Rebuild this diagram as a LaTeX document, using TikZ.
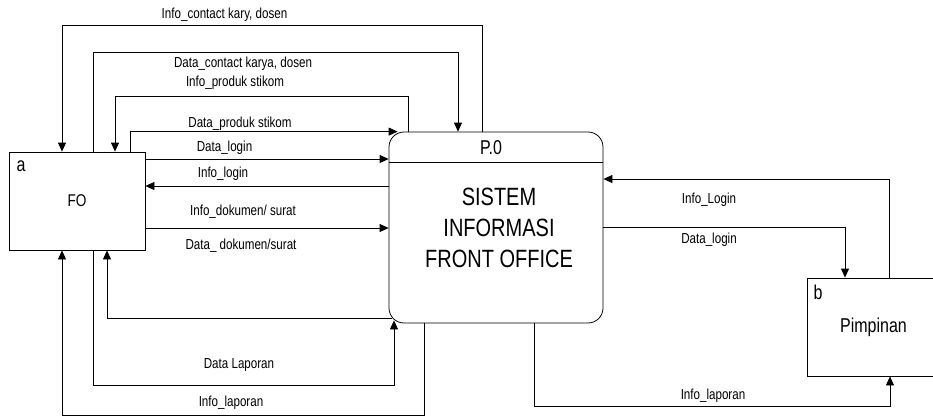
\documentclass[tikz,border=0pt]{standalone}
\usepackage{fontspec}
\setmainfont{Liberation Sans}[FakeStretch=0.8]
\usetikzlibrary{arrows.meta}

\begin{document}
\begin{tikzpicture}[x=1pt, y=-1pt,
  ent/.style={rectangle, draw, line width=0.8pt, minimum width=136pt, minimum height=98pt, inner sep=0pt},
  proc/.style={rectangle, draw, line width=0.8pt, rounded corners=15pt, minimum width=214pt, minimum height=191pt, inner sep=0pt},
  flow/.style={draw, line width=0.8pt, -{Triangle[length=9pt,width=8pt]}},
  lbl/.style={inner sep=0pt, font=\fontsize{14.5}{16}\selectfont},
  tag/.style={inner sep=0pt, font=\fontsize{20}{22}\selectfont}
]
\useasboundingbox (0,0) rectangle (933,416);

% entities and the process
\node[ent, font=\fontsize{17}{20}\selectfont] (fo) at (77,201) {FO};
\node[ent, minimum width=133pt, font=\fontsize{20}{22}\selectfont] (pim) at (873.5,327) {Pimpinan};
\node[proc] (p0) at (496,227.5) {};
\draw[line width=0.8pt] (p0.west |- 0,162) -- (p0.east |- 0,162);

\node[tag] (fotag) at (21,166) {a};
\node[tag] (pimtag) at (818,292) {b};
\node[inner sep=0pt, font=\fontsize{20}{22}\selectfont] (p0id) at (491,148) {P.0};
\node[inner sep=0pt, align=center, font=\fontsize{25}{31}\selectfont] (p0name) at (499,227.5) {SISTEM\\INFORMASI\\FRONT OFFICE};

% FO <-> P.0, over the top
\draw[flow] (p0.north -| 482,0) |- (62,25) -- (fo.north -| 62,0);
\draw[flow] (fo.north -| 93,0) |- (458,52) -- (p0.north -| 458,0);
\draw[flow] (p0.north -| 408,0) |- (115,96) -- (fo.north -| 115,0);
\draw[flow] (fo.north -| 130,0) |- ([xshift=9pt]p0.north west);

% FO <-> P.0, straight
\draw[flow] (fo.east |- 0,159) -- (p0.west |- 0,159);
\draw[flow] (p0.west |- 0,186) -- (fo.east |- 0,186);
\draw[flow] (fo.east |- 0,228) -- (p0.west |- 0,228);

% FO <-> P.0, underneath
\draw[flow] ([xshift=3pt]p0.west |- 0,318) -| (fo.south -| 107,0);
\draw[flow] (fo.south -| 93,0) |- (394,385) -- ([yshift=3pt]p0.south -| 394,0);
\draw[flow] (p0.south -| 424,0) |- (62,415) -- (fo.south -| 62,0);

% P.0 <-> Pimpinan
\draw[flow] (pim.north -| 889,0) |- (p0.east |- 0,179);
\draw[flow] (p0.east |- 0,227) -| (pim.north -| 845,0);
\draw[flow] (p0.south -| 534,0) |- (890,406) -- (pim.south -| 890,0);

% flow labels
\node[lbl] (l1) at (224.5,15) {Info\_contact kary, dosen};
\node[lbl] (l2) at (243,64) {Data\_contact karya, dosen};
\node[lbl] (l3) at (235,83) {Info\_produk stikom};
\node[lbl] (l4) at (240,124) {Data\_produk stikom};
\node[lbl] (l5) at (224.5,148) {Data\_login};
\node[lbl] (l6) at (223,174) {Info\_login};
\node[lbl] (l7) at (243,212) {Info\_dokumen/ surat};
\node[lbl] (l8) at (241,246) {Data\_ dokumen/surat};
\node[lbl] (l9) at (239,365) {Data Laporan};
\node[lbl] (l10) at (231,403) {Info\_laporan};
\node[lbl] (l11) at (709,200) {Info\_Login};
\node[lbl] (l12) at (709,240) {Data\_login};
\node[lbl] (l13) at (713,396) {Info\_laporan};

\end{tikzpicture}
\end{document}
